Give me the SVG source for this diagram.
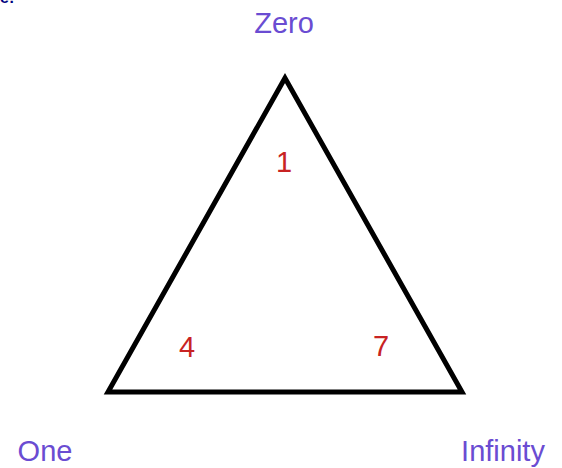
<svg xmlns="http://www.w3.org/2000/svg" width="562" height="468" viewBox="0 0 562 468">
<style>
.lbl{font-family:"Liberation Sans",Arial,sans-serif;font-size:29px;fill:#6a4cd2;text-anchor:middle}
.num{font-family:"Liberation Sans",Arial,sans-serif;font-size:29px;fill:#c82323;text-anchor:middle}
</style>
<rect width="562" height="468" fill="#ffffff"/>
<text x="0" y="3" font-family="Liberation Sans,Arial,sans-serif" font-size="16" font-weight="bold" fill="#000080">e:</text>
<g id="triangle">
<polygon points="285,78 108,392 462,392" fill="none" stroke="#000" stroke-width="5" stroke-linejoin="miter"/>
</g>
<g id="zero"><text class="lbl" x="284" y="33">Zero</text></g>
<g id="one"><text class="lbl" x="45" y="461">One</text></g>
<g id="infinity"><text class="lbl" x="503" y="461">Infinity</text></g>
<g id="n1"><text class="num" x="284" y="172">1</text></g>
<g id="n4"><text class="num" x="187" y="357">4</text></g>
<g id="n7"><text class="num" x="381" y="356">7</text></g>
</svg>
